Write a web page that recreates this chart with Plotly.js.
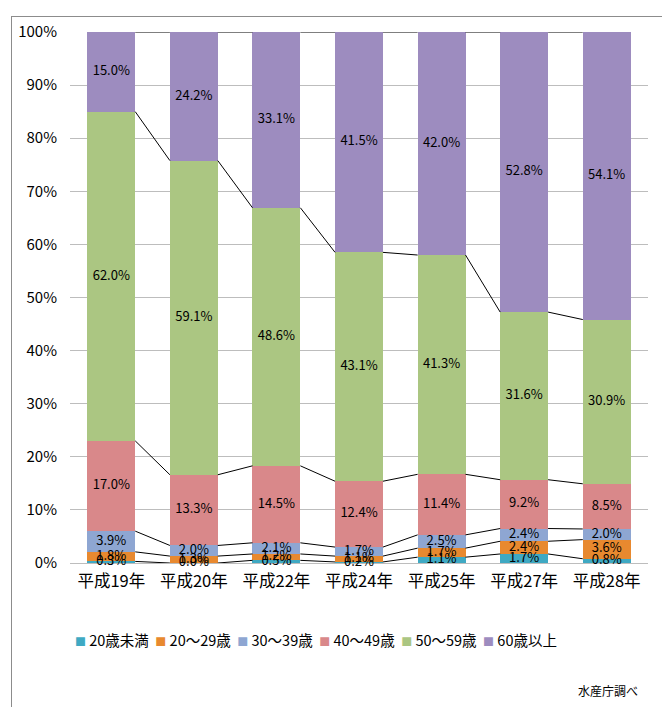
<!DOCTYPE html>
<html><head><meta charset="utf-8">
<script src="https://cdn.plot.ly/plotly-3.0.1.min.js"></script>
<style>
body{margin:0;background:#fff;}
#frame{position:absolute;left:11px;top:16px;width:700px;height:700px;border-left:1px solid #8c8c8c;border-top:1px solid #8c8c8c;}
#chart{position:absolute;left:0;top:0;width:662px;height:707px;}
</style></head>
<body>
<div id="frame"></div>
<div id="chart"></div>
<script>
const categories = ["平成19年","平成20年","平成22年","平成24年","平成25年","平成27年","平成28年"];
const seriesNames = ["20歳未満","20～29歳","30～39歳","40～49歳","50～59歳","60歳以上"];
const under20 = [0.3, 0.0, 0.5, 0.2, 1.1, 1.7, 0.8];
const age20s  = [1.8, 1.3, 1.2, 1.1, 1.7, 2.4, 3.6];
const age30s  = [3.9, 2.0, 2.1, 1.7, 2.5, 2.4, 2.0];
const age40s  = [17.0, 13.3, 14.5, 12.4, 11.4, 9.2, 8.5];
const age50s  = [62.0, 59.1, 48.6, 43.1, 41.3, 31.6, 30.9];
const over60  = [15.0, 24.2, 33.1, 41.5, 42.0, 52.8, 54.1];
const colors = ["#3fa9c3","#e8892f","#8ea6d2","#d9888a","#abc682","#9d8cbf"];
const source = "水産庁調べ";

const series = [under20, age20s, age30s, age40s, age50s, over60];
const n = categories.length;
const xs = categories.map((_, i) => i);
const totals = xs.map(i => series.reduce((s, a) => s + a[i], 0));
const norm = series.map(a => a.map((v, i) => v / totals[i] * 100));
const barW = 0.58;
const font = "Noto Sans CJK JP, sans-serif";

const traces = [];
norm.forEach((a, k) => {
  traces.push({
    type: "bar", x: xs, y: a, name: seriesNames[k], width: barW,
    marker: {color: colors[k], line: {color: colors[k], width: 0}},
    hoverinfo: "skip", showlegend: false
  });
});
const cum = [];
let run = xs.map(() => 0);
norm.forEach(a => { run = run.map((v, i) => v + a[i]); cum.push(run.slice()); });
cum.forEach(level => {
  const lx = [], ly = [];
  for (let i = 0; i < n - 1; i++) {
    lx.push(i + barW / 2, i + 1 - barW / 2, null);
    ly.push(level[i], level[i + 1], null);
  }
  traces.push({type: "scatter", mode: "lines", x: lx, y: ly, showlegend: false,
    line: {color: "#000", width: 1}, hoverinfo: "skip"});
});
norm.forEach((a, k) => {
  const base = k === 0 ? xs.map(() => 0) : cum[k - 1];
  traces.push({type: "scatter", mode: "text", x: xs,
    y: a.map((v, i) => base[i] + v / 2),
    text: series[k].map(v => v.toFixed(1) + "%"),
    textfont: {family: font, size: 13, color: "#000"},
    showlegend: false, hoverinfo: "skip", cliponaxis: false});
});

// legend built as one text line from the series names and colours
const legendText = seriesNames.map((nm, k) =>
  '<span style="color:' + colors[k] + ';font-size:11px">■</span>\u00a0' + nm
).join('\u00a0\u00a0');

const layout = {
  width: 662, height: 707,
  margin: {l: 70, r: 14, t: 32, b: 144},
  paper_bgcolor: "rgba(0,0,0,0)", plot_bgcolor: "rgba(0,0,0,0)",
  barmode: "stack",
  showlegend: false,
  font: {family: font, color: "#000"},
  xaxis: {range: [-0.5, n - 0.5], tickvals: xs, ticktext: categories,
    tickfont: {size: 16.5}, showgrid: false, zeroline: false, showline: false, ticks: "",
    ticklabelstandoff: 6},
  yaxis: {range: [0, 100], tickvals: [0,10,20,30,40,50,60,70,80,90,100],
    ticktext: ["0%","10%","20%","30%","40%","50%","60%","70%","80%","90%","100%"],
    tickfont: {size: 15}, showgrid: true, gridcolor: "#bdbdbd", gridwidth: 1,
    zeroline: true, zerolinecolor: "#bdbdbd", showline: false, ticklen: 0, ticks: "",
    ticklabelstandoff: 12, automargin: false},
  annotations: [
    {text: legendText, xref: "paper", yref: "paper", x: 0.425, y: -0.145,
      xanchor: "center", yanchor: "middle", showarrow: false, font: {size: 14.5}},
    {text: source, xref: "paper", yref: "paper", x: 0.986, y: -0.24,
      xanchor: "right", yanchor: "middle", showarrow: false, font: {size: 12}}
  ]
};
Plotly.newPlot("chart", traces, layout, {displayModeBar: false, staticPlot: true});
</script>
</body></html>
